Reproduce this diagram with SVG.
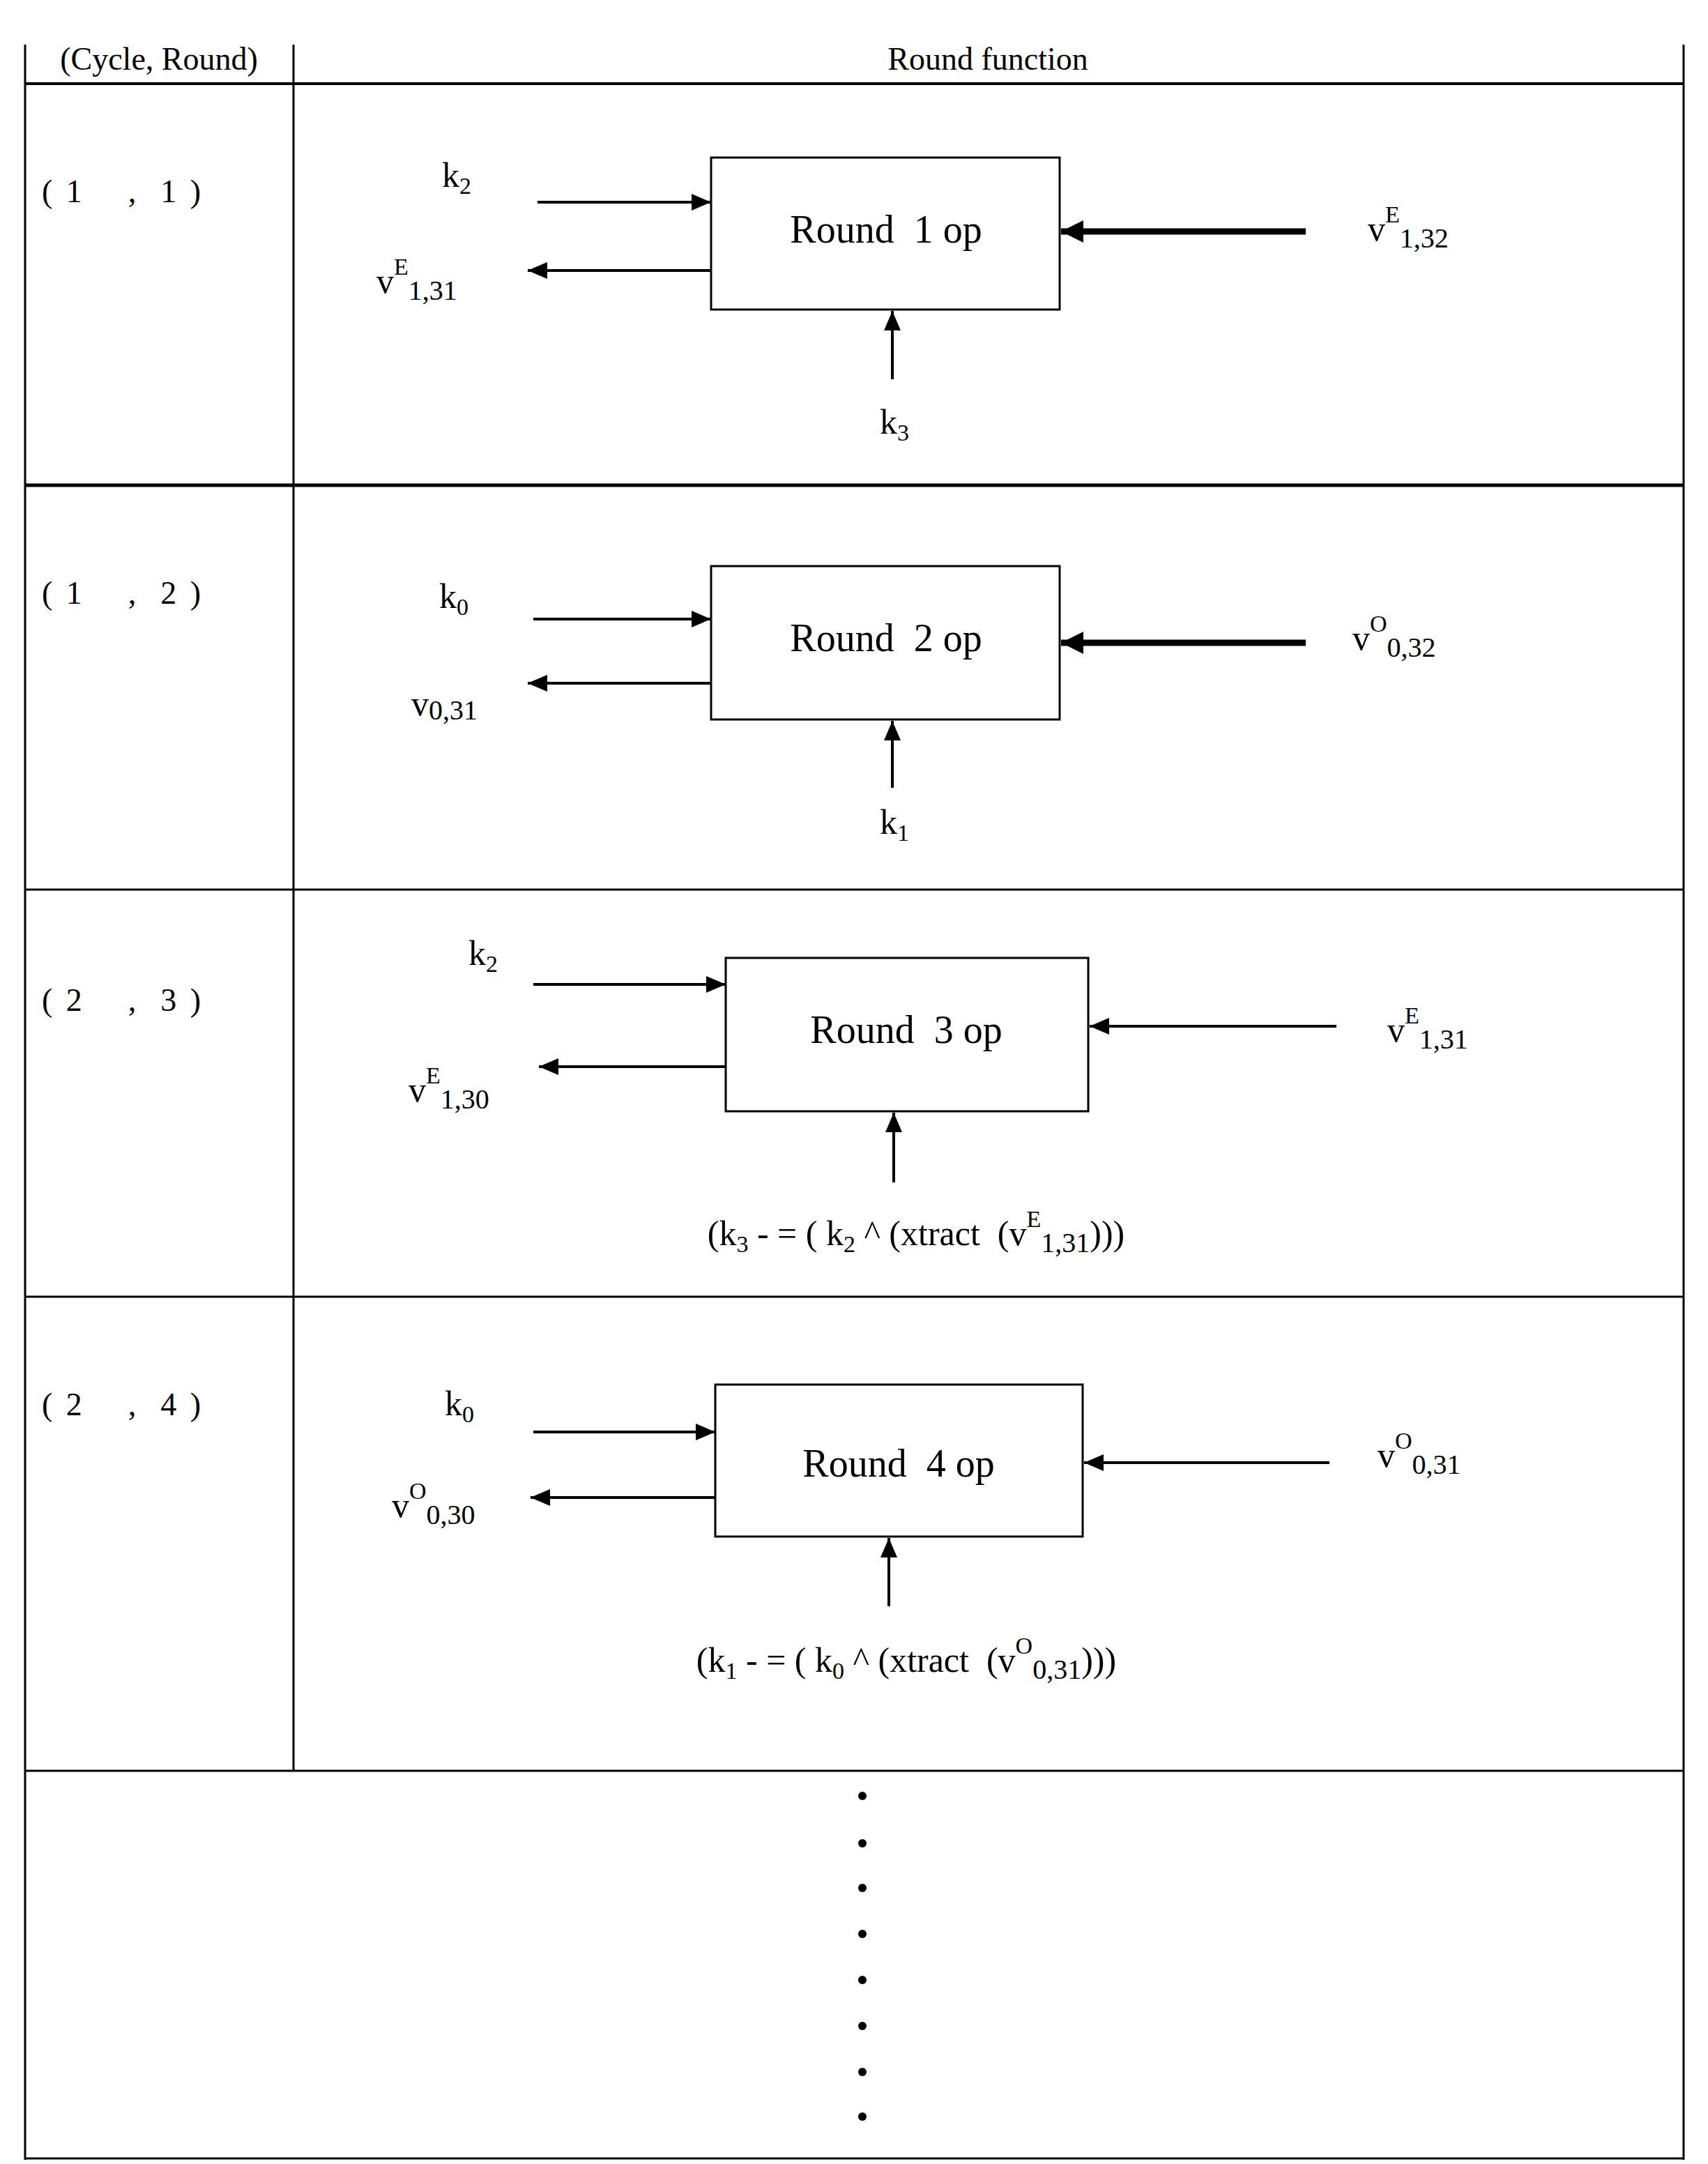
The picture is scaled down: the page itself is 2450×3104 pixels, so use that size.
<svg xmlns="http://www.w3.org/2000/svg" width="2450" height="3104" viewBox="0 0 2450 3104">
<style>
text{font-family:"Liberation Serif","Times New Roman",serif;fill:#000}
.g{stroke:#000;fill:none}
.box{stroke:#000;stroke-width:3;fill:#fff}
.op{font-size:56px;text-anchor:middle}
.lb{font-size:50px}
.rc{font-size:46px;letter-spacing:4px}
.hd{font-size:46px;text-anchor:middle}
.a{stroke:#000;stroke-width:4;marker-end:url(#ah)}
.t{stroke:#000;stroke-width:9;marker-end:url(#ah2)}
</style>
<defs>
<marker id="ah" markerUnits="userSpaceOnUse" markerWidth="30" markerHeight="30" refX="28" refY="12" orient="auto"><path d="M0,0 L28,12 L0,24 Z"/></marker>
<marker id="ah2" markerUnits="userSpaceOnUse" markerWidth="34" markerHeight="36" refX="32" refY="16" orient="auto"><path d="M0,0 L32,16 L0,32 Z"/></marker>
</defs>
<rect width="2450" height="3104" fill="#fff"/>
<g id="table" class="g">
<line x1="36" y1="64" x2="36" y2="3098" stroke-width="3"/>
<line x1="2415" y1="64" x2="2415" y2="3098" stroke-width="3"/>
<line x1="421" y1="64" x2="421" y2="2540" stroke-width="3"/>
<line x1="36" y1="120" x2="2415" y2="120" stroke-width="4"/>
<line x1="36" y1="696" x2="2415" y2="696" stroke-width="5"/>
<line x1="36" y1="1276" x2="2415" y2="1276" stroke-width="3"/>
<line x1="36" y1="1860" x2="2415" y2="1860" stroke-width="3"/>
<line x1="36" y1="2540" x2="2415" y2="2540" stroke-width="3"/>
<line x1="36" y1="3096" x2="2415" y2="3096" stroke-width="3"/>
</g>
<g id="header">
<text x="228" y="100" class="hd">(Cycle, Round)</text>
<text x="1417" y="100" class="hd">Round function</text>
</g>
<g id="labels">
<text x="60" y="290" class="rc">( 1 &#160;&#160;&#160;, &#160;1 )</text>
<text x="60" y="866" class="rc">( 1 &#160;&#160;&#160;, &#160;2 )</text>
<text x="60" y="1450" class="rc">( 2 &#160;&#160;&#160;, &#160;3 )</text>
<text x="60" y="2030" class="rc">( 2 &#160;&#160;&#160;, &#160;4 )</text>
</g>
<g id="round1">
<rect x="1020" y="226" width="500" height="218" class="box"/>
<text x="1271" y="348" class="op">Round &#160;1 op</text>
<text x="634" y="268" class="lb">k<tspan font-size="34" dy="10">2</tspan></text>
<text x="540" y="420" class="lb">v<tspan font-size="34" dy="-26">E</tspan><tspan font-size="40" dy="36">1,31</tspan></text>
<text x="1962" y="345" class="lb">v<tspan font-size="34" dy="-26">E</tspan><tspan font-size="40" dy="36">1,32</tspan></text>
<text x="1262" y="622" class="lb">k<tspan font-size="34" dy="10">3</tspan></text>
</g>
<g id="round2">
<rect x="1020" y="812" width="500" height="220" class="box"/>
<text x="1271" y="934" class="op">Round &#160;2 op</text>
<text x="630" y="872" class="lb">k<tspan font-size="34" dy="10">0</tspan></text>
<text x="590" y="1026" class="lb">v<tspan font-size="40" dy="6">0,31</tspan></text>
<text x="1940" y="932" class="lb">v<tspan font-size="34" dy="-26">O</tspan><tspan font-size="40" dy="36">0,32</tspan></text>
<text x="1262" y="1196" class="lb">k<tspan font-size="34" dy="10">1</tspan></text>
</g>
<g id="round3">
<rect x="1041" y="1374" width="520" height="220" class="box"/>
<text x="1300" y="1496" class="op">Round &#160;3 op</text>
<text x="672" y="1384" class="lb">k<tspan font-size="34" dy="10">2</tspan></text>
<text x="586" y="1580" class="lb">v<tspan font-size="34" dy="-26">E</tspan><tspan font-size="40" dy="36">1,30</tspan></text>
<text x="1990" y="1494" class="lb">v<tspan font-size="34" dy="-26">E</tspan><tspan font-size="40" dy="36">1,31</tspan></text>
<text x="1314" y="1786" class="lb" text-anchor="middle">(k<tspan font-size="34" dy="10">3</tspan><tspan dy="-10"> - = ( k</tspan><tspan font-size="34" dy="10">2</tspan><tspan dy="-10"> ^ (xtract &#160;(v</tspan><tspan font-size="34" dy="-26">E</tspan><tspan font-size="40" dy="36">1,31</tspan><tspan dy="-10">)))</tspan></text>
</g>
<g id="round4">
<rect x="1026" y="1986" width="527" height="218" class="box"/>
<text x="1289" y="2118" class="op">Round &#160;4 op</text>
<text x="638" y="2030" class="lb">k<tspan font-size="34" dy="10">0</tspan></text>
<text x="562" y="2176" class="lb">v<tspan font-size="34" dy="-26">O</tspan><tspan font-size="40" dy="36">0,30</tspan></text>
<text x="1976" y="2104" class="lb">v<tspan font-size="34" dy="-26">O</tspan><tspan font-size="40" dy="36">0,31</tspan></text>
<text x="1300" y="2398" class="lb" text-anchor="middle">(k<tspan font-size="34" dy="10">1</tspan><tspan dy="-10"> - = ( k</tspan><tspan font-size="34" dy="10">0</tspan><tspan dy="-10"> ^ (xtract &#160;(v</tspan><tspan font-size="34" dy="-26">O</tspan><tspan font-size="40" dy="36">0,31</tspan><tspan dy="-10">)))</tspan></text>
</g>
<g id="connectors">
<line x1="771" y1="290" x2="1020" y2="290" class="a" stroke-width="5"/>
<line x1="1020" y1="388" x2="757" y2="388" class="a" stroke-width="5"/>
<line x1="1873" y1="332" x2="1522" y2="332" class="t"/>
<line x1="1280" y1="544" x2="1280" y2="446" class="a"/>
<line x1="765" y1="888" x2="1020" y2="888" class="a"/>
<line x1="1020" y1="980" x2="757" y2="980" class="a"/>
<line x1="1873" y1="922" x2="1522" y2="922" class="t"/>
<line x1="1280" y1="1130" x2="1280" y2="1034" class="a"/>
<line x1="765" y1="1412" x2="1041" y2="1412" class="a"/>
<line x1="1041" y1="1530" x2="773" y2="1530" class="a" stroke-width="5"/>
<line x1="1917" y1="1472" x2="1563" y2="1472" class="a" stroke-width="5"/>
<line x1="1282" y1="1696" x2="1282" y2="1596" class="a"/>
<line x1="765" y1="2054" x2="1026" y2="2054" class="a" stroke-width="6"/>
<line x1="1026" y1="2148" x2="761" y2="2148" class="a"/>
<line x1="1907" y1="2098" x2="1555" y2="2098" class="a" stroke-width="5"/>
<line x1="1275" y1="2304" x2="1275" y2="2206" class="a"/>
</g>
<g id="dots">
<circle cx="1237" cy="2576" r="6"/><circle cx="1237" cy="2644" r="6"/><circle cx="1237" cy="2708" r="6"/><circle cx="1237" cy="2774" r="6"/>
<circle cx="1237" cy="2840" r="6"/><circle cx="1237" cy="2906" r="6"/><circle cx="1237" cy="2972" r="6"/><circle cx="1237" cy="3036" r="6"/>
</g>
</svg>
